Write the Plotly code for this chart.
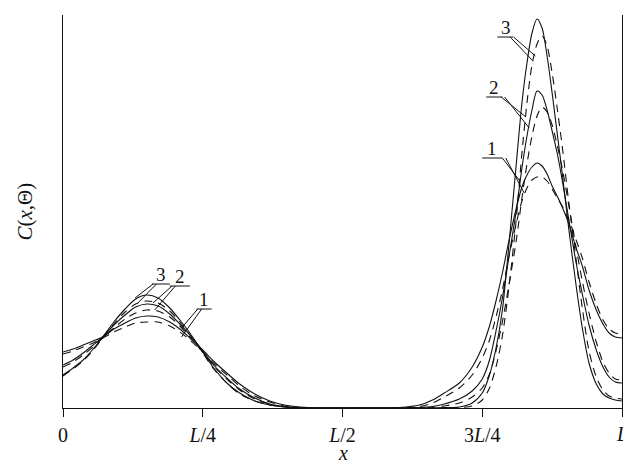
import plotly.graph_objects as go

# x positions as fractions of L
x_vals = [0.0, 0.018, 0.036, 0.054, 0.071, 0.091, 0.111, 0.130, 0.150, 0.170, 0.191, 0.209,
          0.227, 0.250, 0.271, 0.295, 0.316, 0.343, 0.370, 0.396, 0.423, 0.459, 0.500, 0.548,
          0.602, 0.638, 0.661, 0.682, 0.709, 0.732, 0.750, 0.763, 0.775, 0.786, 0.798, 0.811,
          0.821, 0.830, 0.839, 0.848, 0.857, 0.866, 0.875, 0.884, 0.893, 0.905, 0.918, 0.929,
          0.941, 0.954, 0.966, 0.977, 0.988, 1.0]

solid_1 = [56, 59, 63, 67, 71, 79, 85, 90, 92, 91, 86, 79, 70, 58, 46, 34, 24, 14, 7, 3, 1, 0, 0, 0,
           0.5, 3, 8, 15, 25, 41, 61, 82, 108, 135, 168, 200, 221, 233, 241, 245, 242, 234, 222, 212,
           201, 184, 160, 142, 118, 98, 84, 75, 71, 70]
solid_2 = [43, 48, 55, 63, 71, 83, 93, 101, 104, 102, 94, 84, 73, 57, 42, 29, 19, 10, 4, 1.5, 0.5, 0, 0, 0,
           0, 0.5, 1.5, 4, 9, 17, 29, 48, 78, 110, 152, 198, 240, 272, 298, 317, 313, 298, 277, 255,
           228, 188, 145, 114, 83, 58, 41, 31, 26, 25]
solid_3 = [33, 40, 48, 59, 71, 86, 99, 109, 113, 110, 100, 88, 75, 56, 39, 24, 15, 7, 3, 1, 0, 0, 0, 0,
           0, 0, 0, 0.5, 1, 5, 15, 33, 61, 98, 165, 245, 305, 345, 375, 389, 380, 352, 315, 275,
           235, 178, 122, 80, 45, 24, 14, 10, 8, 7]
dashed_1 = [54, 57, 61, 65, 70, 76, 81, 85, 86, 86, 82, 76, 68, 56, 44, 32, 22, 12, 6, 2, 0.5, 0, 0, 0,
            0, 1.5, 5, 11, 20, 33, 50, 68, 92, 118, 152, 185, 207, 220, 228, 231, 231, 227, 219, 210,
            202, 188, 168, 150, 126, 104, 88, 79, 75, 74]
dashed_2 = [41, 46, 53, 61, 70, 80, 89, 95, 98, 97, 91, 82, 71, 56, 41, 28, 18, 9, 4, 1, 0, 0, 0, 0,
            0, 0, 0.5, 2, 5, 11, 20, 34, 58, 86, 124, 168, 210, 244, 272, 292, 301, 296, 283, 263,
            240, 202, 160, 127, 95, 66, 46, 35, 29, 28]
dashed_3 = [32, 39, 47, 58, 70, 84, 96, 104, 107, 105, 97, 86, 73, 55, 38, 24, 14, 7, 3, 1, 0, 0, 0, 0,
            0, 0, 0, 0, 0.5, 2, 8, 20, 42, 72, 122, 190, 255, 305, 343, 364, 372, 362, 335, 300,
            262, 205, 148, 100, 57, 31, 18, 12, 10, 9]

tick_vals = [0, 0.25, 0.5, 0.75, 1.0]
tick_text = ["0", "<i>L</i>/4", "<i>L</i>/2", "3<i>L</i>/4", ""]
end_label = "<i>L</i>"

curve_labels = ["3", "2", "1", "3", "2", "1"]
# label anchor (x, y), underline (x0, x1), leader lines A and B
label_pos = [(0.792, 371), (0.771, 311), (0.768, 250), (0.175, 124), (0.209, 122), (0.253, 99)]
underline = [(0.777, 0.805), (0.757, 0.786), (0.750, 0.786), (0.159, 0.191), (0.191, 0.227), (0.239, 0.266)]
leader_a = [((0.800, 371), (0.839, 348)), ((0.784, 311), (0.828, 291)), ((0.786, 250), (0.816, 228)),
            ((0.161, 124), (0.129, 110)), ((0.195, 122), (0.161, 105)), ((0.241, 99), (0.212, 80))]
leader_b = [((0.806, 371), (0.845, 352)), ((0.790, 311), (0.834, 280)), ((0.792, 250), (0.825, 215)),
            ((0.167, 124), (0.134, 105)), ((0.201, 122), (0.164, 98)), ((0.248, 99), (0.212, 71))]

FONT = "Liberation Serif"
INK = "#111111"

fig = go.Figure()
for ys in (solid_1, solid_2, solid_3):
    fig.add_trace(go.Scatter(x=x_vals, y=ys, mode="lines",
                             line=dict(color=INK, width=1.1, shape="spline", smoothing=0.8),
                             showlegend=False, hoverinfo="skip"))
for ys in (dashed_1, dashed_2, dashed_3):
    fig.add_trace(go.Scatter(x=x_vals, y=ys, mode="lines",
                             line=dict(color=INK, width=1.1, shape="spline", smoothing=0.8, dash="8px,6px"),
                             showlegend=False, hoverinfo="skip"))

shapes = []
annotations = []
for i, txt in enumerate(curve_labels):
    lx, ly = label_pos[i]
    annotations.append(dict(x=lx, y=ly, xref="x", yref="y", text=txt, showarrow=False,
                            xanchor="center", yanchor="bottom", yshift=-3,
                            font=dict(family=FONT, size=19, color=INK)))
    u0, u1 = underline[i]
    shapes.append(dict(type="line", xref="x", yref="y", x0=u0, x1=u1, y0=ly, y1=ly,
                       line=dict(color=INK, width=1)))
    for seg in (leader_a[i], leader_b[i]):
        (ax0, ay0), (ax1, ay1) = seg
        shapes.append(dict(type="line", xref="x", yref="y", x0=ax0, y0=ay0, x1=ax1, y1=ay1,
                           line=dict(color=INK, width=1)))

annotations.append(dict(x=-0.068, y=0.5, xref="paper", yref="paper",
                        text="<i>C</i>(<i>x</i>,Θ)", textangle=-90, showarrow=False,
                        xanchor="center", yanchor="middle",
                        font=dict(family=FONT, size=21, color=INK)))
annotations.append(dict(x=0.5, y=-0.115, xref="paper", yref="paper",
                        text="<i>x</i>", showarrow=False, xanchor="center", yanchor="middle",
                        font=dict(family=FONT, size=20, color=INK)))
annotations.append(dict(x=1.0, y=-0.066, xref="x", yref="paper",
                        text=end_label, showarrow=False, xanchor="center", yanchor="middle",
                        font=dict(family=FONT, size=20, color=INK)))

fig.update_layout(
    width=623, height=464,
    margin=dict(l=63, r=1, t=15, b=56),
    paper_bgcolor="white", plot_bgcolor="white",
    shapes=shapes, annotations=annotations,
    xaxis=dict(range=[0, 1.0], tickvals=tick_vals, ticktext=tick_text,
               showgrid=False, zeroline=False, showline=True, linecolor=INK, linewidth=1,
               ticks="outside", ticklen=8, tickcolor=INK, tickwidth=1,
               ticklabelstandoff=1,
               tickfont=dict(family=FONT, size=20, color=INK)),
    yaxis=dict(range=[0, 393], showgrid=False, zeroline=False, showline=True, mirror=True,
               linecolor=INK, linewidth=1, showticklabels=False, ticks=""),
)

fig.write_html("out.html", config={"displayModeBar": False},
               post_script="document.body.style.margin='0';document.body.style.overflow='hidden';")
